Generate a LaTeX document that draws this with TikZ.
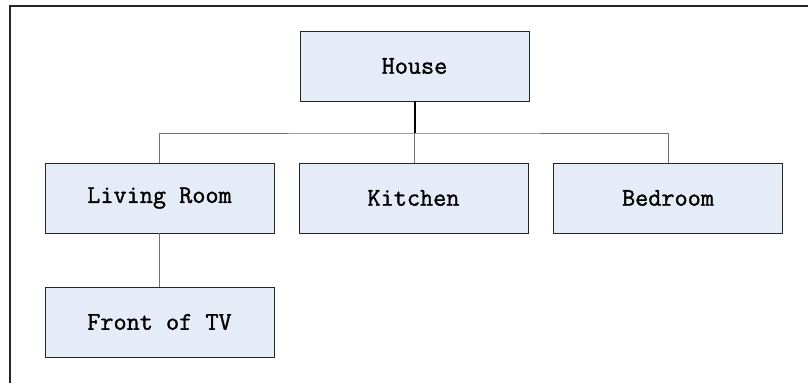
\documentclass[tikz,border=0pt]{standalone}
\usepackage{fontspec}
\newfontfamily\roomfont{Latin Modern Mono}[FakeBold=1.2]
\definecolor{boxfill}{HTML}{E6ECF7}
\definecolor{linkgray}{HTML}{707070}
\begin{document}
\begin{tikzpicture}[x=1bp, y=-1bp,
    roombox/.style={draw=black!85, line width=0.9bp, fill=boxfill,
        minimum width=229bp, minimum height=70bp, inner sep=0pt,
        font=\roomfont\fontsize{25.5bp}{30bp}\selectfont},
    link/.style={draw=linkgray, line width=1bp}]
    \useasboundingbox (0,0) rectangle (808,383);

    % Frame (top and left edges only)
    \draw[black!85, line width=2bp] (9.5,383) -- (9.5,6) -- (808,6);

    % Rooms
    \node[roombox] (house) at (414.5,66) {House};
    \node[roombox] (lr) at (159.5,198) {Living Room};
    \node[roombox] (kit) at (413.5,198) {Kitchen};
    \node[roombox] (bed) at (668,198) {Bedroom};
    \node[roombox] (tv) at (159.5,322) {Front of TV};

    % Links
    \coordinate (bus) at (414.5,133);
    \draw[black, line width=2bp] (house.south) -- (bus);
    \draw[link] (lr.north) |- (bus) -| (bed.north);
    \draw[link] (bus) -- (bus |- kit.north);
    \draw[link] (lr.south) -- (tv.north);
\end{tikzpicture}
\end{document}
